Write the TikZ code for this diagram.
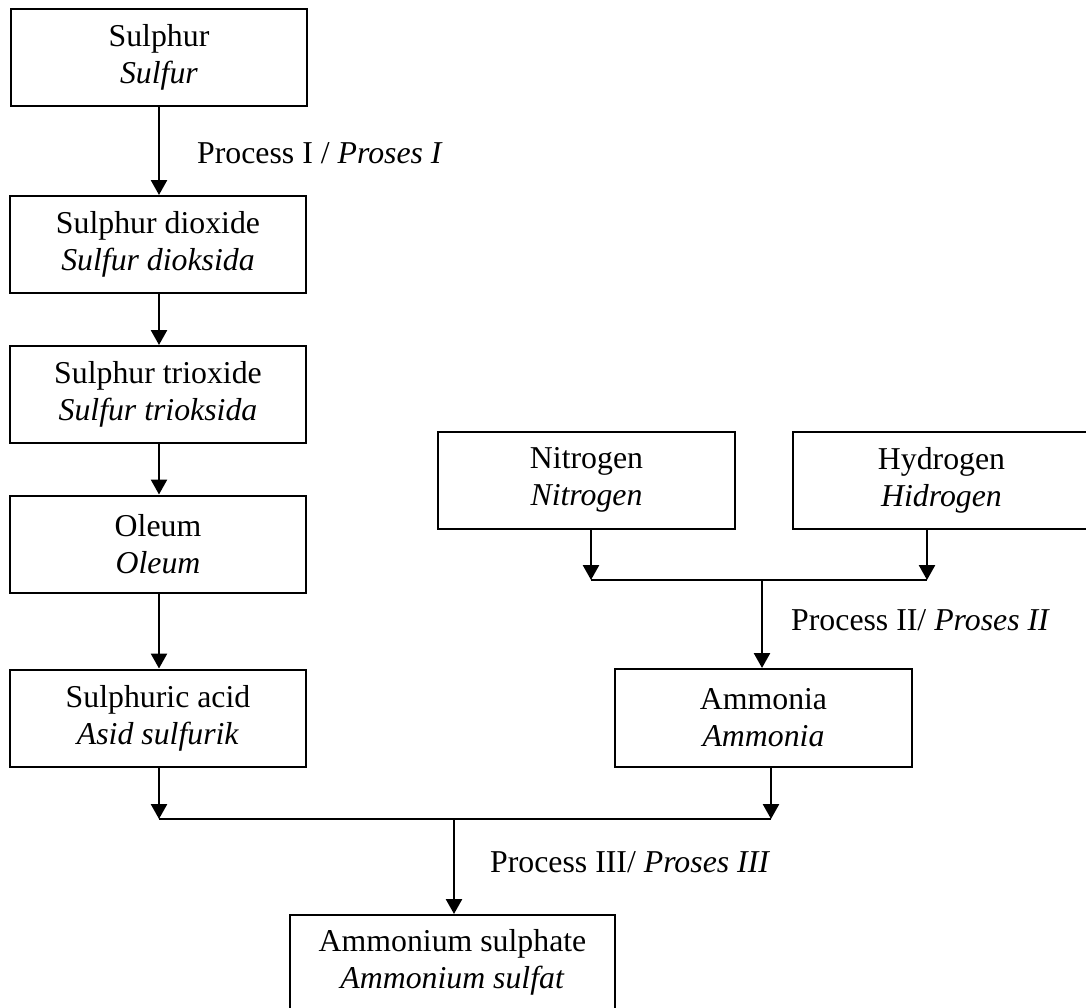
\documentclass[tikz,border=0pt]{standalone}
\usepackage{fontspec}
\setmainfont{Liberation Serif}
\usetikzlibrary{arrows.meta}
\tikzset{
  box/.style={draw, line width=2pt, minimum width=296pt, minimum height=97pt, inner sep=0pt, align=center,
    font=\fontsize{31.8}{37}\selectfont},
  arr/.style={line width=2.6pt, -{Triangle[width=16pt,length=15pt]}},
  ln/.style={line width=2.6pt},
  lbl/.style={anchor=base west, inner sep=0pt, font=\fontsize{31.8}{37}\selectfont}
}
\begin{document}
\begin{tikzpicture}[x=1pt,y=-1pt]
\clip (0,0) rectangle (1086,1007);
\fill[white] (0,0) rectangle (1086,1007);
% left column
\node[box] (s1) at (159,57) {Sulphur\\\textit{Sulfur}};
\node[box] (s2) at (158,244.5) {Sulphur dioxide\\\textit{Sulfur dioksida}};
\node[box] (s3) at (158,394.5) {Sulphur trioxide\\\textit{Sulfur trioksida}};
\node[box] (s4) at (158,544) {Oleum\\\textit{Oleum}};
\node[box] (s5) at (158,718) {Sulphuric acid\\\textit{Asid sulfurik}};
% right side
\node[box, minimum width=297pt] (n) at (586.5,480) {Nitrogen\\\textit{Nitrogen}};
\node[box, minimum width=297pt] (h) at (941.5,480) {Hydrogen\\\textit{Hidrogen}};
\node[box, minimum width=297pt, minimum height=98pt] (am) at (763.5,718) {Ammonia\\\textit{Ammonia}};
% bottom
\node[box, minimum width=325pt, minimum height=170pt, anchor=north] (bot) at (452.5,914) {};
\node[inner sep=0pt, align=center, font=\fontsize{31.8}{37}\selectfont] (bott) at (452.5,962) {Ammonium sulphate\\\textit{Ammonium sulfat}};
% junction points
\coordinate (j1) at (591,580);
\coordinate (j2) at (927,580);
\coordinate (jm) at (762,580);
\coordinate (jb) at (159,819);
\coordinate (ja) at (771,819);
\coordinate (jc) at (454,819);
% connectors
\draw[arr] (s1.south) -- (s2.north -| s1.south);
\draw[arr] (s2.south -| s1.south) -- (s3.north -| s1.south);
\draw[arr] (s3.south -| s1.south) -- (s4.north -| s1.south);
\draw[arr] (s4.south -| s1.south) -- (s5.north -| s1.south);
\draw[arr] (j1 |- n.south) -- (j1);
\draw[arr] (j2 |- h.south) -- (j2);
\draw[ln] (j1) -- (j2);
\draw[arr] (jm) -- (am.north -| jm);
\draw[arr] (jb |- s5.south) -- (jb);
\draw[arr] (ja |- am.south) -- (ja);
\draw[ln] (jb) -- (ja);
\draw[arr] (jc) -- (bot.north -| jc);
% labels
\node[lbl] (l1) at (197,163) {Process I / \textit{Proses I}};
\node[lbl] (l2) at (791,630) {Process II/ \textit{Proses II}};
\node[lbl] (l3) at (490,872) {Process III/ \textit{Proses III}};
\end{tikzpicture}
\end{document}
